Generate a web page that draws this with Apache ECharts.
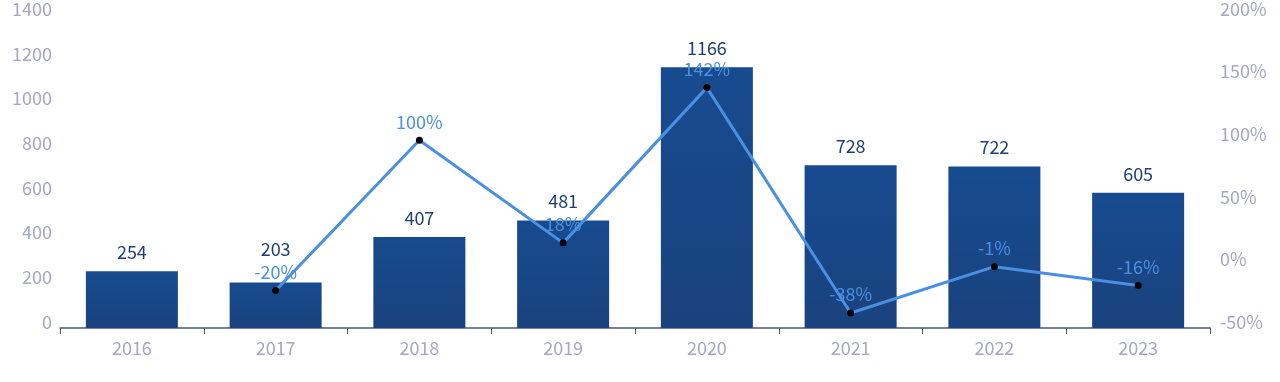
<!DOCTYPE html>
<html>
<head>
<meta charset="utf-8">
<script src="https://cdn.jsdelivr.net/npm/echarts@6/dist/echarts.min.js"></script>
<style>
html,body{margin:0;padding:0;background:#fff;}
#main{width:1280px;height:382px;}
</style>
</head>
<body>
<div id="main"></div>
<script>
var categories = ['2016','2017','2018','2019','2020','2021','2022','2023'];
var amounts = [254, 203, 407, 481, 1166, 728, 722, 605];
var growth = [null, -20, 100, 18, 142, -38, -1, -16];

var FONT = '"Noto Sans CJK SC", "Noto Sans", sans-serif';
var axisColor = '#a4a8c4';

var barData = amounts.map(function (v, i) {
  // the 2017 label sits higher to clear the growth label
  return i === 1 ? {value: v, label: {offset: [0, -14]}} : v;
});

var chart = echarts.init(document.getElementById('main'));
chart.setOption({
  animation: false,
  textStyle: {fontFamily: FONT},
  grid: {left: 60, right: 70, top: 15, bottom: 54},
  xAxis: {
    type: 'category',
    data: categories,
    axisLine: {lineStyle: {color: '#4a5670', width: 1.5}},
    axisTick: {show: true, length: 6, lineStyle: {color: '#4a5670'}},
    axisLabel: {color: axisColor, fontSize: 18, fontFamily: FONT, margin: 11}
  },
  yAxis: [{
    type: 'value', min: 0, max: 1400, interval: 200,
    splitLine: {show: false},
    axisLine: {show: false}, axisTick: {show: false},
    axisLabel: {color: axisColor, fontSize: 18, fontFamily: FONT, margin: 8,
      verticalAlign: 'bottom', lineHeight: 12,
      formatter: function (v) { return String(v); }}
  }, {
    type: 'value', min: -50, max: 200, interval: 50,
    splitLine: {show: false},
    axisLine: {show: false}, axisTick: {show: false},
    axisLabel: {color: axisColor, fontSize: 18, fontFamily: FONT, margin: 10,
      verticalAlign: 'bottom', lineHeight: 12, formatter: '{value}%'}
  }],
  series: [{
    type: 'bar',
    data: barData,
    barWidth: '64%',
    itemStyle: {
      color: new echarts.graphic.LinearGradient(0,0,0,1,[
        {offset: 0, color: '#174b8f'},
        {offset: 1, color: '#1a427e'}
      ])
    },
    label: {show: true, position: 'top', distance: 10, color: '#1f3f70', fontSize: 18, fontFamily: FONT}
  }, {
    type: 'line',
    yAxisIndex: 1,
    data: growth,
    symbol: 'circle',
    symbolSize: 7,
    lineStyle: {color: '#4a90e2', width: 3},
    itemStyle: {color: '#000'},
    label: {show: true, position: 'top', distance: 6, color: '#4a90e2', fontSize: 18, fontFamily: FONT, formatter: '{c}%'},
    z: 5
  }]
});
</script>
</body>
</html>
